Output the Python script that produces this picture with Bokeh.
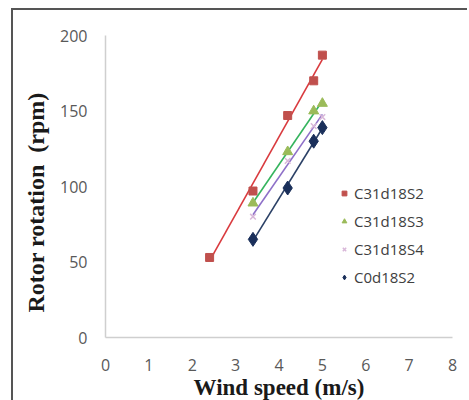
import numpy as np
from bokeh.plotting import figure
from bokeh.models import Range1d, Legend, LegendItem, FixedTicker, Title
from bokeh.embed import file_html
from bokeh.resources import INLINE

# Data
wind_s2 = [2.4, 3.4, 4.2, 4.8, 5.0]
rpm_c31d18s2 = [53, 97, 147, 170, 187]
wind = [3.4, 4.2, 4.8, 5.0]
rpm_c31d18s3 = [89, 123, 150, 155]
rpm_c31d18s4 = [80, 117, 140, 146]
rpm_c0d18s2 = [65, 99, 130, 139]
x_ticks = [0, 1, 2, 3, 4, 5, 6, 7, 8]
y_ticks = [0, 50, 100, 150, 200]

p = figure(width=456, height=397, output_backend="svg", toolbar_location=None,
           x_range=Range1d(0, 8), y_range=Range1d(0, 200),
           min_border_left=92, min_border_right=17, min_border_top=25, min_border_bottom=70)
p.styles = {"border-left": "2px solid #555555", "border-top": "2px solid #555555",
            "margin-left": "11px", "margin-top": "8px"}
p.outline_line_color = None
p.xgrid.grid_line_color = None
p.ygrid.grid_line_color = None

for ax in (p.xaxis[0], p.yaxis[0]):
    ax.axis_line_color = "#cfcfcf"
    ax.axis_line_width = 1.5
    ax.major_tick_line_color = None
    ax.minor_tick_line_color = None
    ax.major_tick_out = 0
    ax.major_tick_in = 0
    ax.major_label_text_font = "Open Sans"
    ax.major_label_text_font_size = "16px"
    ax.major_label_text_color = "#595959"
    ax.axis_label_text_font = "Liberation Serif"
    ax.axis_label_text_font_style = "bold"
    ax.axis_label_text_font_size = "23px"
    ax.axis_label_text_color = "#1a1a1a"

p.xaxis.ticker = FixedTicker(ticks=x_ticks)
p.yaxis.ticker = FixedTicker(ticks=y_ticks)
p.xaxis.axis_label = "Wind speed (m/s)"
p.xaxis.major_label_standoff = 21
p.xaxis.axis_label_standoff = 1
p.yaxis.major_label_standoff = 18

ytitle = Title(text="Rotor rotation\u00a0\u00a0(rpm)", align="left", offset=25,
               vertical_align="top", standoff=14, text_font="Liberation Serif",
               text_font_style="bold", text_font_size="24px", text_color="#1a1a1a")
p.add_layout(ytitle, "left")


def trend(xs, ys):
    xs = np.asarray(xs, float)
    ys = np.asarray(ys, float)
    m, b = np.polyfit(xs, ys, 1)
    xx = np.array([xs.min(), xs.max()])
    return xx, m * xx + b

series = [
    ("C31d18S2", wind_s2, rpm_c31d18s2, "square", "#C0504D", "#D93A3E", 8),
    ("C31d18S3", wind, rpm_c31d18s3, "triangle", "#9BBB59", "#35B45E", 10),
    ("C31d18S4", wind, rpm_c31d18s4, "x", "#D9B8D9", "#8E70C8", 8),
    ("C0d18S2", wind, rpm_c0d18s2, "diamond", "#1A2F5A", "#2B4066", 14),
]

items = []
for name, xs, ys, marker, mcol, lcol, size in series:
    tx, ty = trend(xs, ys)
    p.line(tx, ty, line_color=lcol, line_width=1.6)
    r = p.scatter(xs, ys, marker=marker, size=size, fill_color=mcol,
                  line_color=mcol, line_width=1.5 if marker == "x" else 1)
    items.append(LegendItem(label=name, renderers=[r]))

legend = Legend(items=items, location=(233, 50), orientation="vertical",
                background_fill_alpha=0, border_line_color=None,
                padding=0, margin=0, spacing=8, glyph_width=12, glyph_height=20,
                label_height=20, label_standoff=4,
                label_text_font="Open Sans", label_text_font_size="15px",
                label_text_color="#404040")
p.add_layout(legend, "center")

open("out.html", "w").write(file_html(p, INLINE))
